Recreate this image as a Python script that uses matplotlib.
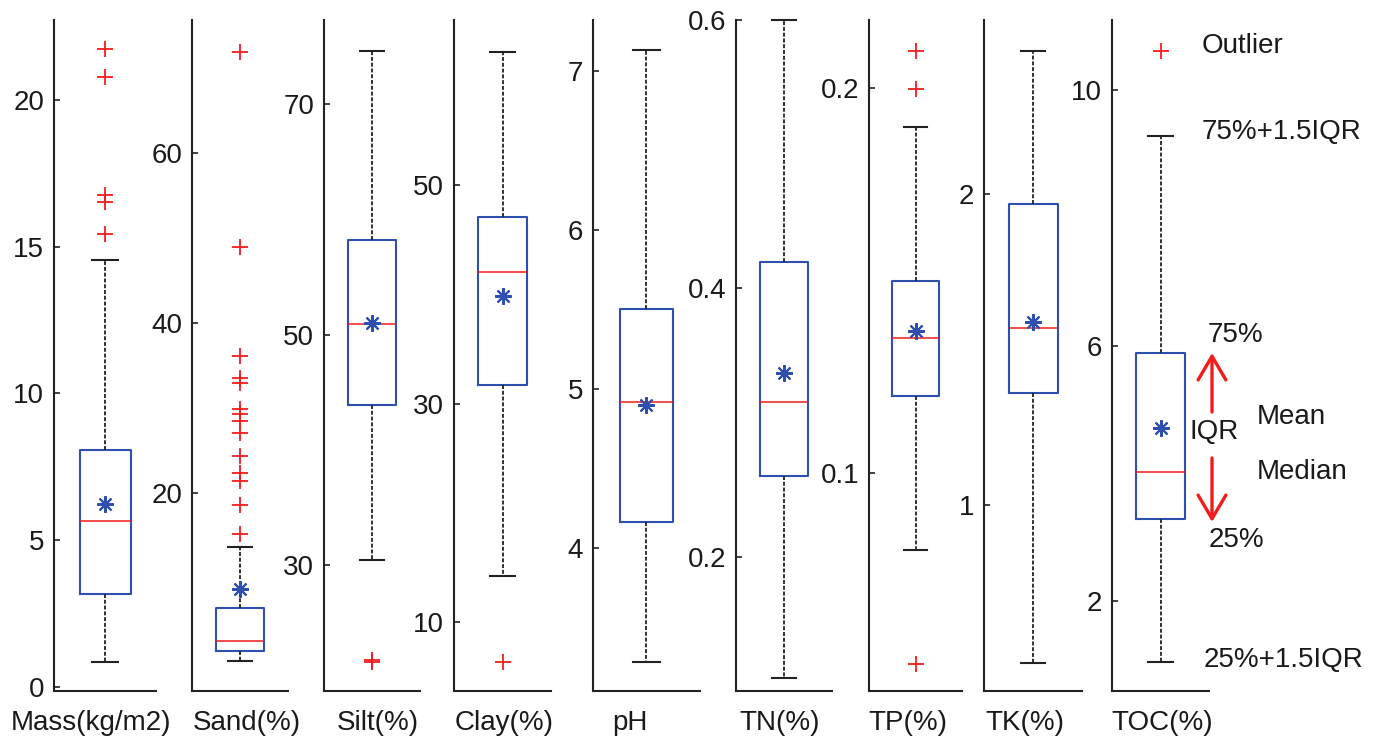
import matplotlib
matplotlib.use("Agg")
import matplotlib.pyplot as plt

# ---------------- data ----------------
names = ["Mass(kg/m2)", "Sand(%)", "Silt(%)", "Clay(%)", "pH",
         "TN(%)", "TP(%)", "TK(%)", "TOC(%)"]
whislo = [0.85, 0.3, 30.5, 14.2, 3.28, 0.11, 0.080, 0.49, 1.06]
q1 = [3.18, 1.5, 43.9, 31.7, 4.16, 0.260, 0.120, 1.36, 3.29]
med = [5.65, 2.65, 50.9, 42.0, 4.92, 0.315, 0.135, 1.567, 4.02]
q3 = [8.08, 6.6, 58.2, 47.1, 5.50, 0.420, 0.150, 1.968, 5.88]
whishi = [14.56, 13.7, 74.6, 62.2, 7.13, 0.600, 0.190, 2.46, 9.27]
means = [6.23, 8.8, 51.0, 39.8, 4.90, 0.337, 0.137, 1.588, 4.71]
fliers_mass = [21.74, 20.78, 16.78, 16.53, 15.45]
fliers_sand = [71.9, 48.9, 36.1, 33.6, 33.0, 29.9, 29.3, 28.5, 27.1,
               24.4, 22.4, 21.5, 18.7, 15.2]
fliers_silt = [21.6, 21.75]
fliers_clay = [6.35]
fliers_ph = []
fliers_tn = []
fliers_tp = [0.2096, 0.1998, 0.0505]
fliers_tk = []
fliers_toc = [10.61]
fliers = [fliers_mass, fliers_sand, fliers_silt, fliers_clay, fliers_ph,
          fliers_tn, fliers_tp, fliers_tk, fliers_toc]
yticks = [[0, 5, 10, 15, 20], [20, 40, 60], [30, 50, 70], [10, 30, 50],
          [4, 5, 6, 7], [0.2, 0.4, 0.6], [0.1, 0.2], [1, 2], [2, 6, 10]]
ylims = [(-0.14, 22.73), (-3.2, 75.6), (19.1, 77.3), (3.7, 65.1),
         (3.10, 7.32), (0.100, 0.600), (0.0434, 0.2177), (0.40, 2.56),
         (0.60, 11.09)]

# ---------------- layout (pixels of the 1384x749 reference) ----------------
W, H = 1384, 749
ax_left = [54, 192, 324, 454, 593, 736, 869, 984, 1112]
ax_right = [156, 288, 420, 551, 700, 832, 962, 1082, 1209]
ax_top, ax_bottom = 20, 691
label_x = [91, 247, 378, 504, 630, 780, 908, 1025, 1162]
label_y = 723

BLUE = "#2F4FB0"
RED = "#F21B1B"
FONT = "Liberation Sans"
FS = 20

plt.rcParams["font.family"] = [FONT, "DejaVu Sans"]


def fx(x):
    return x / W


def fy(y):
    return 1 - y / H


fig = plt.figure(figsize=(W / 100, H / 100), dpi=100)

for i in range(len(names)):
    ax = fig.add_axes([fx(ax_left[i]), fy(ax_bottom),
                       (ax_right[i] - ax_left[i]) / W,
                       (ax_bottom - ax_top) / H])
    stats = [dict(med=med[i], q1=q1[i], q3=q3[i], whislo=whislo[i],
                  whishi=whishi[i], mean=means[i], fliers=fliers[i])]
    parts = ax.bxp(stats, positions=[1], widths=0.5, capwidths=0.25,
                   showmeans=True, manage_ticks=False,
                   boxprops=dict(color=BLUE, linewidth=1.5),
                   medianprops=dict(color=RED, linewidth=1.1),
                   whiskerprops=dict(color="#222222", linewidth=1.3,
                                     linestyle=(0, (2.2, 1.0))),
                   capprops=dict(color="#222222", linewidth=1.5),
                   flierprops=dict(marker="+", markersize=12,
                                   markeredgecolor=RED, markeredgewidth=1.3,
                                   linestyle="none"),
                   meanprops=dict(marker=(8, 2, 0), markersize=12,
                                  markeredgecolor=BLUE, markerfacecolor=BLUE,
                                  markeredgewidth=1.5, linestyle="none"))
    for group in parts.values():
        for art in group:
            art.set_clip_on(False)
    ax.set_xlim(0.5, 1.5)
    ax.set_ylim(*ylims[i])
    ax.set_yticks(yticks[i])
    ax.set_yticklabels([f"{t:g}" for t in yticks[i]])
    ax.set_xticks([])
    for s in ("top", "right"):
        ax.spines[s].set_visible(False)
    for s in ("left", "bottom"):
        ax.spines[s].set_linewidth(1.5)
        ax.spines[s].set_color("#222222")
    ax.tick_params(axis="y", direction="in", length=4, width=1.2,
                   labelsize=FS, pad=7, colors="#222222",
                   labelcolor="#1a1a1a")
    ax.patch.set_alpha(0)
    fig.text(fx(label_x[i]), fy(label_y), names[i], ha="center",
             va="center", fontsize=FS, color="#1a1a1a")

# ---------------- legend-like annotations in the TOC panel ----------------
notes = [("Outlier", 1202, 46), ("75%+1.5IQR", 1202, 132),
         ("75%", 1208, 335), ("IQR", 1190, 432), ("Mean", 1257, 417),
         ("Median", 1257, 472), ("25%", 1209, 540),
         ("25%+1.5IQR", 1204, 660)]
for txt, x, y in notes:
    fig.text(fx(x), fy(y), txt, ha="left", va="center", fontsize=FS,
             color="#1a1a1a")

arrow_kw = dict(arrowstyle="->,head_length=0.85,head_width=0.5",
                color=RED, lw=2.4, mutation_scale=20, shrinkA=0, shrinkB=0)
fig.add_artist(matplotlib.patches.FancyArrowPatch(
    (fx(1212), fy(412)), (fx(1212), fy(353)),
    transform=fig.transFigure, **arrow_kw))
fig.add_artist(matplotlib.patches.FancyArrowPatch(
    (fx(1212), fy(458)), (fx(1212), fy(522)),
    transform=fig.transFigure, **arrow_kw))

fig.savefig("out.png", dpi=100)
